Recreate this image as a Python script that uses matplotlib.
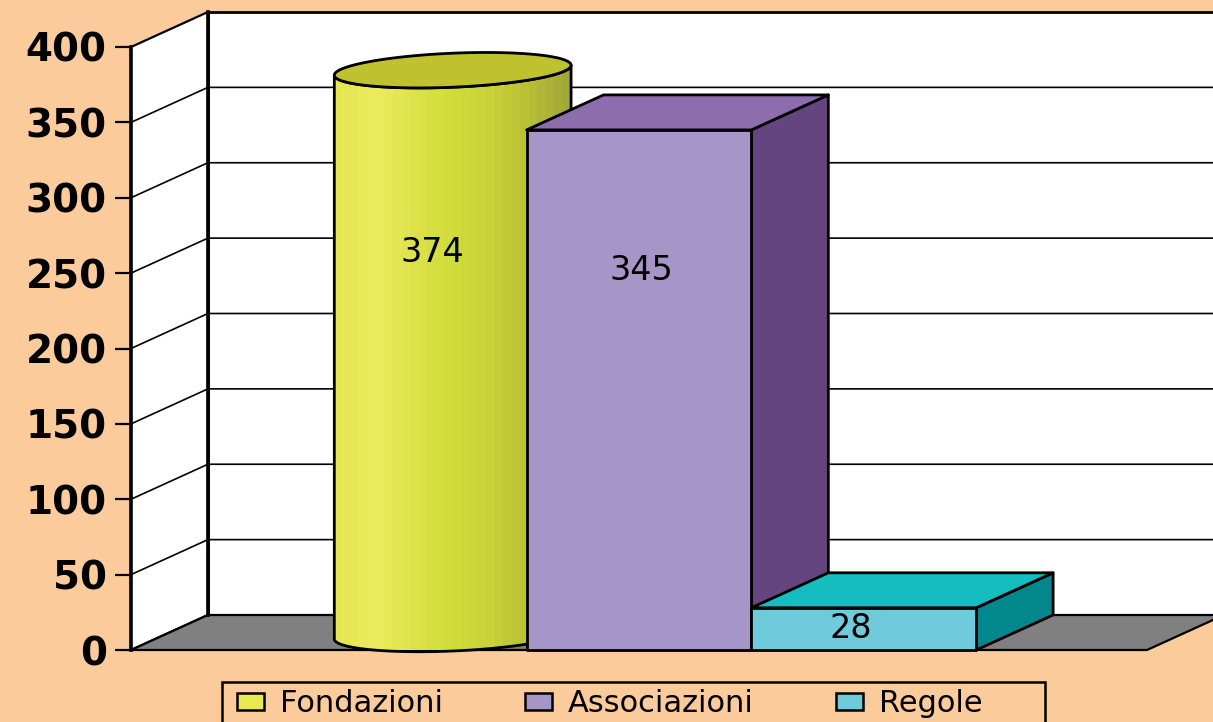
import numpy as np
import matplotlib
matplotlib.use('Agg')
import matplotlib.pyplot as plt
from matplotlib.colors import LinearSegmentedColormap
from matplotlib.patches import Polygon, Patch, Rectangle

# Values
categories = ['Fondazioni', 'Associazioni', 'Regole']
values = [374, 345, 28]
label_y = [264, 252, 14]
y_ticks = [0, 50, 100, 150, 200, 250, 300, 350, 400]

BG = '#FBCB9C'
FRONT = ['#E8E850', '#A695C7', '#6FCBDB']
TOP = ['#BFC12F', '#8E6DAE', '#15BCC0']
SIDE = [None, '#654580', '#02888C']
CYL_STOPS = ['#E6E655', '#ECEC5C', '#DDE24A', '#CFDD3A', '#C9D238', '#B9C035', '#A3A639']

W, H = 1213, 722
# plot front plane in pixels: x 131..1147, y 47..650
fig = plt.figure(figsize=(W / 100, H / 100), dpi=100, facecolor=BG)
ax = fig.add_axes([131 / W, 72 / H, 1016 / W, 603 / H])
ax.patch.set_visible(False)
XMIN, XMAX = -1.26, 3.26
ax.set_xlim(XMIN, XMAX)
ax.set_ylim(0, 400)

# 3d depth offset and bar width in data units
DX = 77 / 225
DY = 35 / 1.5075
BW = 1.0


def poly(pts, color, z, lw=2.0):
    p = Polygon(pts, closed=True, facecolor=color, edgecolor='black', lw=lw,
                joinstyle='round', clip_on=False, zorder=z)
    ax.add_patch(p)
    return p


# walls and floor
poly([(XMIN + DX, DY), (XMAX + DX, DY), (XMAX + DX, 400 + DY), (XMIN + DX, 400 + DY)], 'white', 1)
poly([(XMIN, 0), (XMIN + DX, DY), (XMIN + DX, 400 + DY), (XMIN, 400)], 'white', 1.2, 1.6)
poly([(XMIN, 0), (XMAX, 0), (XMAX + DX, DY), (XMIN + DX, DY)], '#808080', 1.4, 1.6)
ax.plot([XMIN + DX, XMIN + DX], [DY, 400 + DY], color='black', lw=2.6, clip_on=False, zorder=1.6)

# gridlines on both walls
for t in y_ticks[1:-1]:
    ax.plot([XMIN, XMIN + DX, XMAX + DX], [t, t + DY, t + DY], color='black', lw=1.2,
            clip_on=False, zorder=1.5)

# cylinder: front left/right follow an ellipse tilted a little
cx = 0 + DX / 2
a = 118.5 / 225
b = 17.0 / 1.5075
tilt = 5.0 / 1.5075
cy = DY / 2 - 1.0
t = np.linspace(0, 2 * np.pi, 200)
ex = a * np.cos(t)
ey = b * np.sin(t) + tilt * np.cos(t)
lower = t[(t >= np.pi)]
bottom = np.column_stack([cx + a * np.cos(lower), cy + b * np.sin(lower) + tilt * np.cos(lower)])
upper = lower[::-1]
top_edge = np.column_stack([cx + a * np.cos(upper), values[0] + cy + b * np.sin(upper) + tilt * np.cos(upper)])
body = poly(np.vstack([bottom, top_edge]), 'none', 3)
shade = LinearSegmentedColormap.from_list('cyl', CYL_STOPS)
img = ax.imshow(np.linspace(0, 1, 28).reshape(1, -1), cmap=shade, aspect='auto',
                extent=(cx - a, cx + a, -20, values[0] + 30), zorder=2.9, interpolation='nearest')
img.set_clip_path(body)
ax.set_xlim(XMIN, XMAX)
ax.set_ylim(0, 400)
poly(np.column_stack([cx + ex, values[0] + cy + ey]), TOP[0], 3.1)

# box bars
for i in (1, 2):
    x0, x1 = i - BW / 2, i + BW / 2
    v = values[i]
    z = 4 + i
    poly([(x1, 0), (x1 + DX, DY), (x1 + DX, v + DY), (x1, v)], SIDE[i], z)
    poly([(x0, v), (x1, v), (x1 + DX, v + DY), (x0 + DX, v + DY)], TOP[i], z)
    poly([(x0, 0), (x1, 0), (x1, v), (x0, v)], FRONT[i], z + 0.1)

# value labels
label_x = [(433 - 414.5) / 225, (642 - 414.5) / 225, (851 - 414.5) / 225]
for x, y, v in zip(label_x, label_y, values):
    ax.text(x, y, str(v), ha='center', va='center', fontsize=24, color='black', zorder=9)

# axis
for s in ['top', 'right', 'bottom']:
    ax.spines[s].set_visible(False)
ax.spines['left'].set_linewidth(2.6)
ax.spines['left'].set_zorder(2)
ax.set_xticks([])
ax.set_yticks(y_ticks)
ax.tick_params(axis='y', length=11.5, width=1.6, pad=6, labelsize=28)
for lab in ax.get_yticklabels():
    lab.set_fontweight('bold')

# legend frame runs off the bottom of the figure like in the original
handles = [Patch(facecolor=c, edgecolor='black', lw=1.8) for c in FRONT]
leg = ax.legend(handles, categories, loc='upper left', ncol=3, fontsize=22, frameon=False,
                bbox_to_anchor=(222 / W, 1 - 674 / H), bbox_transform=fig.transFigure,
                borderaxespad=0, handlelength=0.885, handleheight=0.5, handletextpad=0.52,
                columnspacing=2.68, borderpad=0.5)
leg.set_zorder(10)
fig.add_artist(Rectangle((222 / W, -0.05), 823 / W, 0.05 + 40 / H, transform=fig.transFigure,
                         facecolor='none', edgecolor='black', lw=1.8))

fig.savefig('out.png', dpi=100, facecolor=BG)
